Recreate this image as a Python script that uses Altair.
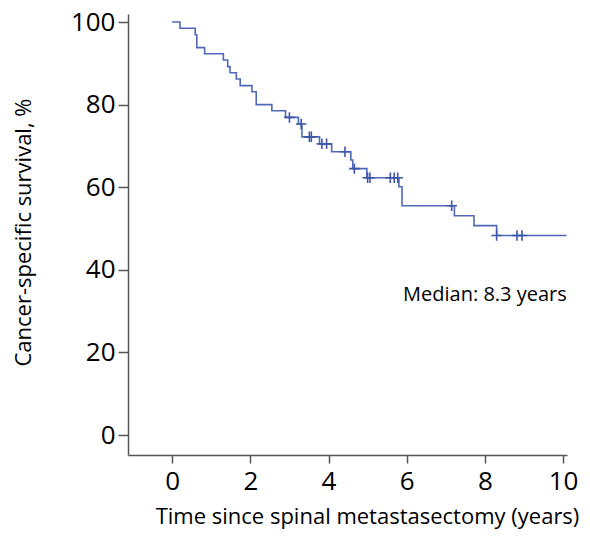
import altair as alt
import pandas as pd

# Kaplan-Meier step curve (time in years, survival %)
km_time = [0.0, 0.2, 0.59, 0.63, 0.83, 1.31, 1.42, 1.48, 1.64, 1.74, 2.04, 2.15,
           2.55, 2.9, 3.23, 3.32, 3.77, 4.08, 4.57, 4.62, 4.98, 5.8, 5.88, 7.22,
           7.72, 8.3, 10.09]
km_surv = [100.0, 98.5, 96.9, 93.8, 92.3, 90.8, 89.2, 87.7, 86.2, 84.6, 83.1, 80.0,
           78.5, 76.9, 75.3, 72.2, 70.5, 68.6, 66.6, 64.5, 62.3, 60.1, 55.5, 53.1,
           50.7, 48.3, 48.3]

# Censored observations
cens_time = [3.0, 3.3, 3.51, 3.56, 3.83, 3.95, 4.42, 4.66, 5.0, 5.06, 5.58, 5.68,
             5.77, 7.15, 8.3, 8.82, 8.95]
cens_surv = [76.9, 75.3, 72.2, 72.2, 70.5, 70.5, 68.6, 64.5, 62.3, 62.3, 62.3, 62.3,
             62.3, 55.5, 48.3, 48.3, 48.3]

y_ticks = [0, 20, 40, 60, 80, 100]
x_ticks = [0, 2, 4, 6, 8, 10]

annot_text = ["Median: 8.3 years"]
annot_x = [8.0]
annot_y = [34.0]

COLOR = "#5068bb"
FONT = "Open Sans"

km_df = pd.DataFrame({"t": km_time, "s": km_surv})
cens_df = pd.DataFrame({"t": cens_time, "s": cens_surv})
ann_df = pd.DataFrame({"t": annot_x, "s": annot_y, "label": annot_text})

xscale = alt.Scale(domain=[-1.13, 10.1], nice=False, zero=False)
yscale = alt.Scale(domain=[-4.84, 101.94], nice=False, zero=False)

xaxis = alt.Axis(values=x_ticks, title="Time since spinal metastasectomy (years)",
                 grid=False, tickSize=8, labelPadding=5, labelFontSize=26,
                 labelFont=FONT, labelColor="#000000", titleFont=FONT,
                 titleFontSize=22, titleFontWeight="normal", titleColor="#000000",
                 domainColor="#555555", tickColor="#555555", domainWidth=1.5,
                 tickWidth=1.5, titleX=239, titleY=61, titleAnchor="middle",
                 titleAlign="center", titleBaseline="middle", labelFlush=False)
yaxis = alt.Axis(values=y_ticks, title="Cancer-specific survival, %",
                 grid=False, tickSize=10, labelPadding=3, labelFontSize=26,
                 labelFont=FONT, labelColor="#000000", titleFont=FONT,
                 titleFontSize=22, titleFontWeight="normal", titleColor="#000000",
                 domainColor="#555555", tickColor="#555555", domainWidth=1.5,
                 tickWidth=1.5, titleX=-105, titleY=218, titleAngle=-90,
                 titleAlign="center", titleBaseline="middle", labelFlush=False)

line = alt.Chart(km_df).mark_line(interpolate="step-after", color=COLOR,
                                  strokeWidth=1.6).encode(
    x=alt.X("t:Q", scale=xscale, axis=xaxis),
    y=alt.Y("s:Q", scale=yscale, axis=yaxis),
)

cens = alt.Chart(cens_df).mark_point(
    shape="M-1,0L1,0M0,-1L0,1", size=110, filled=False, color="#3f56a8",
    strokeWidth=1.6, opacity=1
).encode(x="t:Q", y="s:Q")

ann = alt.Chart(ann_df).mark_text(font=FONT, fontSize=20, color="#000000",
                                  align="center", baseline="middle").encode(
    x="t:Q", y="s:Q", text="label:N")

chart = alt.layer(line, cens, ann).properties(
    width=439, height=441,
    autosize=alt.AutoSizeParams(type="none"),
    padding={"left": 120, "right": 14, "top": 6, "bottom": 76},
).configure_view(stroke=None)

chart.save("out.html", embed_options={"renderer": "svg", "actions": False})
